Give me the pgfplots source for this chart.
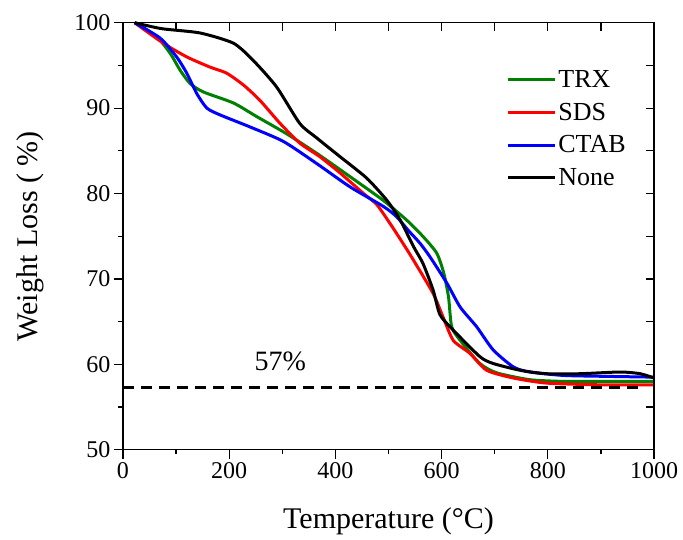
\documentclass[border=0pt]{standalone}
\usepackage{fontspec}
\setmainfont{Liberation Serif}
\usepackage{pgfplots}
\pgfplotsset{compat=1.18}
\definecolor{cgreen}{RGB}{0,128,0}
\begin{document}
\begin{tikzpicture}
\begin{axis}[
  scale only axis, width=531pt, height=427pt,
  xmin=0, xmax=1000, ymin=50, ymax=100,
  xtick distance=200, ytick distance=10,
  minor x tick num=1, minor y tick num=1,
  xtick pos=bottom, ytick pos=left,
  tick align=outside,
  major tick length=9pt, minor tick length=4.5pt,
  axis line style={line width=1.2pt},
  every tick/.style={line width=1.2pt, black},
  /pgf/number format/assume math mode=true,
  /pgf/number format/1000 sep={},
  tick label style={font=\fontsize{24}{28}\selectfont},
  xlabel={Temperature (°C)},
  ylabel={Weight Loss ( \%)},
  label style={font=\fontsize{30}{34}\selectfont},
  xlabel style={at={(axis description cs:0.5,-0.1686)}, anchor=center},
  ylabel style={at={(axis description cs:-0.175,0.5)}, anchor=center, rotate=0},
  clip=false,
  legend style={draw=none, fill=none, font=\fontsize{26}{30}\selectfont,
    at={(axis cs:716,94.9)}, anchor=north west, row sep=10pt,
    nodes={inner sep=2pt}},
  legend cell align=left,
  legend image code/.code={\draw[#1] (0pt,0pt) -- (47pt,0pt);},
  every axis plot/.append style={line width=3pt, smooth, tension=0.4},
]
\addplot[cgreen] coordinates {(22,100)(63,98.4)(89,96.4)(107,94.5)(126,92.9)(151,91.9)(208,90.6)(252,89.0)(308,87.0)(365,84.7)(427,82.0)(490,79.2)(534,76.9)(566,74.9)(591,73.0)(604,70.7)(613,67.9)(619,64.4)(635,62.8)(672,60.1)(704,59.0)(766,58.2)(829,58.0)(900,58.0)(1000,58.0)};
\addlegendentry{TRX}
\addplot[red] coordinates {(22,100)(76,97.6)(120,96.0)(164,94.8)(195,94.1)(227,92.7)(258,90.9)(296,88.2)(333,85.9)(371,84.3)(409,82.4)(453,80.0)(478,78.7)(506,76.2)(531,73.8)(547,72.2)(584,68.3)(603,65.5)(622,62.8)(653,61.3)(685,59.3)(735,58.4)(798,57.8)(900,57.6)(1000,57.6)};
\addlegendentry{SDS}
\addplot[blue] coordinates {(22,100)(70,98.2)(101,96.0)(120,94.1)(139,91.7)(158,90.0)(183,89.2)(239,87.8)(302,86.1)(365,83.5)(427,80.8)(490,78.5)(515,77.3)(537,75.7)(559,74.2)(578,72.6)(610,69.5)(635,66.7)(666,64.4)(697,61.7)(735,59.7)(766,59.1)(829,58.7)(900,58.6)(1000,58.5)};
\addlegendentry{CTAB}
\addplot[black] coordinates {(22,100)(73,99.3)(145,98.8)(208,97.6)(245,95.6)(289,92.5)(333,88.2)(365,86.5)(409,84.3)(459,81.8)(497,79.2)(522,76.9)(547,73.8)(565,71.8)(584,68.7)(597,65.8)(622,64.0)(672,60.9)(697,60.1)(748,59.3)(798,58.9)(861,58.9)(936,59.1)(974,58.9)(1000,58.4)};
\addlegendentry{None}
\addplot[black, line width=2.4pt, dash pattern=on 11pt off 7pt, sharp plot, forget plot] coordinates {(0,57.3)(980,57.3)};
\node[font=\fontsize{28}{32}\selectfont] at (axis cs:296,60.3) {57\%};
\coordinate (bbA) at (axis cs:-231.6,39.54);
\coordinate (bbB) at (axis cs:1054.6,102.66);
\end{axis}
\begin{axis}[
  scale only axis, width=531pt, height=427pt,
  xmin=0, xmax=1000, ymin=50, ymax=100,
  xtick distance=100, ytick distance=5,
  xtick pos=top, ytick pos=right,
  tick align=inside, major tick length=8pt,
  xticklabels={}, yticklabels={},
  axis line style={line width=1.2pt},
  every tick/.style={line width=1.2pt, black},
]
\end{axis}
\pgfresetboundingbox
\path[use as bounding box] (bbA) rectangle (bbB);
\end{tikzpicture}
\end{document}
